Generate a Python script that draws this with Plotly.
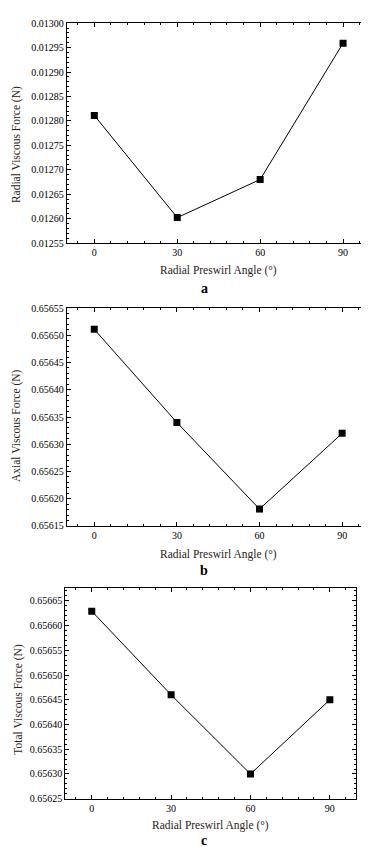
import plotly.graph_objects as go

angles = [0, 30, 60, 90]
radial_force = [0.012811, 0.012602, 0.012680, 0.012959]
axial_force = [0.656511, 0.656340, 0.656181, 0.656320]
total_force = [0.656629, 0.656460, 0.656300, 0.656450]

x_ticks = [0, 30, 60, 90]
y_titles = ["Radial Viscous Force (N)", "Axial Viscous Force (N)", "Total Viscous Force (N)"]
x_title = "Radial Preswirl Angle (°)"
panel_letters = ["a", "b", "c"]

FONT = "Liberation Serif"
W, H = 369, 847

# pixel frames (left, right, top, bottom)
frames = [(58.7, 362.7, 9.3, 232.3), (58.7, 361.7, 298.3, 519.3), (57.3, 348.3, 582.7, 796.0)]
yranges = [[0.01255, 0.01300], [0.65615, 0.65655], [0.65625, 0.656675]]
ydticks = [0.00005, 0.00005, 0.00005]
ytick0 = [0.01255, 0.65615, 0.65625]
xtitle_y = [260, 548, 823]
ytitle_x = [8.5, 8.5, 10.5]
ytitle_y = [132.5, 417.5, 695]
letter_y = [278, 564, 838]

series = [radial_force, axial_force, total_force]

fig = go.Figure()
for i, vals in enumerate(series):
    sfx = "" if i == 0 else str(i + 1)
    fig.add_trace(go.Scatter(
        x=angles, y=vals, mode="lines+markers",
        line=dict(color="black", width=1),
        marker=dict(symbol="square", size=7, color="black"),
        xaxis="x" + sfx, yaxis="y" + sfx, showlegend=False,
    ))
    l, r, t, b = frames[i]
    common = dict(
        showline=True, linecolor="black", linewidth=1, mirror="allticks",
        ticks="inside", ticklen=4, tickwidth=1, tickcolor="black",
        showgrid=False, zeroline=False,
        tickfont=dict(family=FONT, size=10, color="black"),
    )
    fig.layout["xaxis" + sfx] = dict(
        common, domain=[l / W, r / W], range=[-10, 100],
        tickvals=x_ticks, anchor="y" + sfx,
        minor=dict(dtick=6, tick0=0, ticks="inside", ticklen=2, tickcolor="black", tickwidth=1),
    )
    fig.layout["yaxis" + sfx] = dict(
        common, domain=[1 - b / H, 1 - t / H], range=yranges[i],
        tick0=ytick0[i], dtick=ydticks[i], tickformat=".5f", anchor="x" + sfx,
        minor=dict(dtick=0.00001, ticks="inside", ticklen=2, tickcolor="black", tickwidth=1),
    )
    fig.add_annotation(
        x=(l + r) / 2 / W, y=1 - xtitle_y[i] / H, xref="paper", yref="paper",
        text=x_title, showarrow=False, xanchor="center", yanchor="middle",
        font=dict(family=FONT, size=11.5, color="#2a2118"),
    )
    fig.add_annotation(
        x=ytitle_x[i] / W, y=1 - ytitle_y[i] / H, xref="paper", yref="paper",
        text=y_titles[i], showarrow=False, textangle=-90, xanchor="center", yanchor="middle",
        font=dict(family=FONT, size=11.5, color="#2a2118"),
    )
    fig.add_annotation(
        x=196 / W, y=1 - letter_y[i] / H,
        xref="paper", yref="paper", text="<b>%s</b>" % panel_letters[i],
        showarrow=False, xanchor="center", yanchor="middle",
        font=dict(family=FONT, size=14, color="black"),
    )

fig.update_layout(
    width=W, height=H, margin=dict(l=0, r=0, t=0, b=0),
    paper_bgcolor="white", plot_bgcolor="white",
    font=dict(family=FONT),
)
fig.write_html("out.html")
